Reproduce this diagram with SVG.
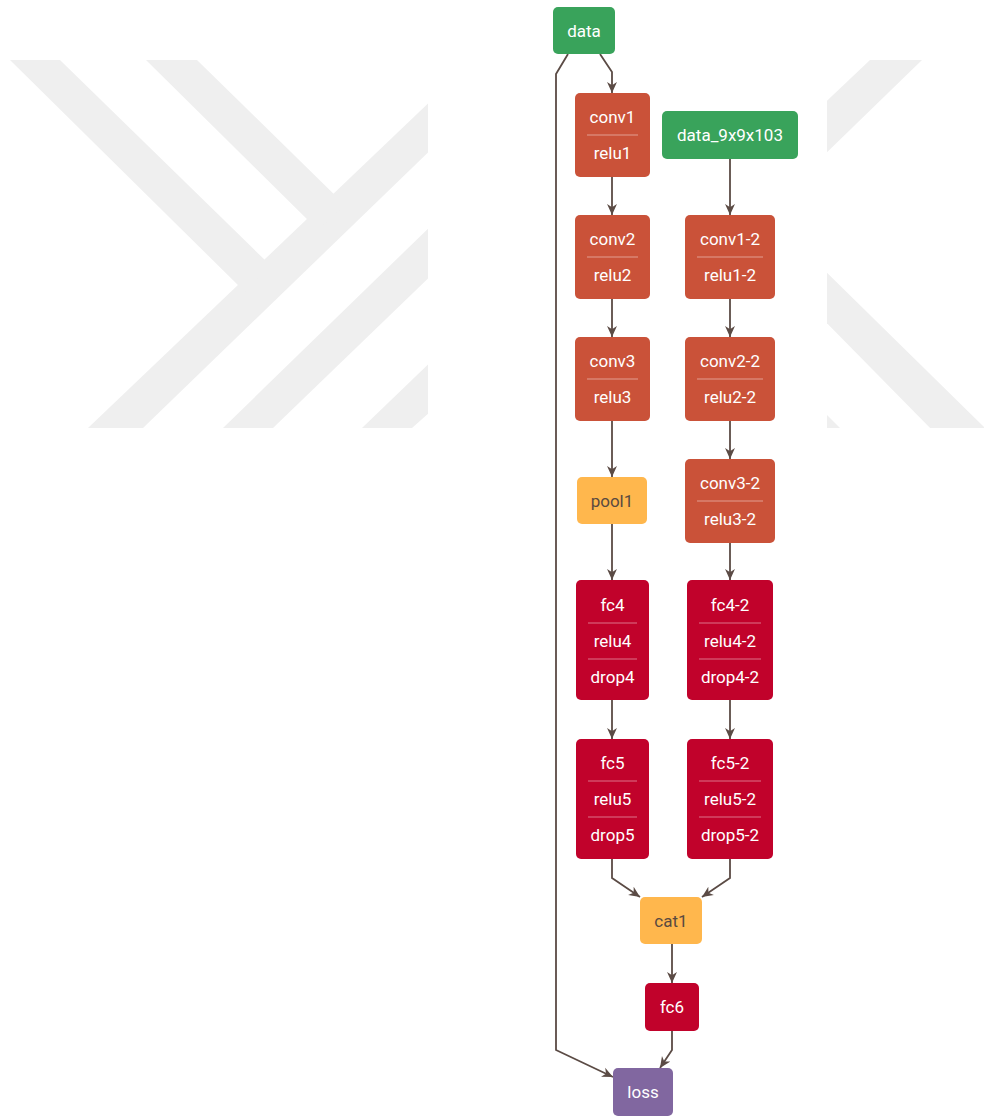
<svg xmlns="http://www.w3.org/2000/svg" width="984" height="1117" viewBox="0 0 984 1117">
<defs>
<style>
.wm{fill:#efefef}
.n rect.b{stroke:none}
.data{fill:#39a35b}
.conv{fill:#ca5239}
.fc{fill:#c1022b}
.pool{fill:#ffb74d}
.loss{fill:#8167a0}
.t{font-family:Roboto,"Liberation Sans",sans-serif;font-size:17px;fill:#ffffff;text-anchor:middle}
.td{fill:#5a4a40}
.dv{stroke:#ffffff;stroke-opacity:0.45;stroke-width:1}
.e{fill:none;stroke:#5b4b45;stroke-width:1.8}
</style>
<marker id="ah" viewBox="0 0 10 10" refX="10" refY="5" markerWidth="11" markerHeight="11" markerUnits="userSpaceOnUse" orient="auto">
<path d="M0,0.5 L10,5 L0,9.5 L3,5 z" fill="#5b4b45"/>
</marker>
<clipPath id="cl"><rect x="0" y="0" width="428" height="428"/></clipPath>
<clipPath id="cr"><rect x="827" y="0" width="157" height="428"/></clipPath>
</defs>
<rect width="984" height="1117" fill="#ffffff"/>
<g id="watermark">
<g clip-path="url(#cl)">
<polygon class="wm" points="88,428 143,428 440,141 440,92"/>
<polygon class="wm" points="10,60 60,60 270,265 245,292"/>
<polygon class="wm" points="146,60 197,60 345,205 318,230"/>
<polygon class="wm" points="223,428 273,428 440,267 440,217"/>
<polygon class="wm" points="362,428 412,428 440,403 440,353"/>
</g>
<g clip-path="url(#cr)">
<polygon class="wm" points="870,60 922,60 815,164 815,112"/>
<polygon class="wm" points="815,261 990,433 935,433 815,311"/>
<polygon class="wm" points="827,415 827,428 840,428"/>
</g>
</g>
<g id="connectors">
<path class="e" d="M600,54 L612,72 L612,93" marker-end="url(#ah)"/>
<path class="e" d="M568,54 L556,74 L556,1050 L613,1077" marker-end="url(#ah)"/>
<path class="e" d="M612,177 L612,215" marker-end="url(#ah)"/>
<path class="e" d="M612,299 L612,337" marker-end="url(#ah)"/>
<path class="e" d="M612,421 L612,477" marker-end="url(#ah)"/>
<path class="e" d="M612,524 L612,580" marker-end="url(#ah)"/>
<path class="e" d="M612,700 L612,739" marker-end="url(#ah)"/>
<path class="e" d="M612,859 L612,878 L640,897" marker-end="url(#ah)"/>
<path class="e" d="M730,159 L730,215" marker-end="url(#ah)"/>
<path class="e" d="M730,299 L730,337" marker-end="url(#ah)"/>
<path class="e" d="M730,421 L730,459" marker-end="url(#ah)"/>
<path class="e" d="M730,543 L730,580" marker-end="url(#ah)"/>
<path class="e" d="M730,700 L730,739" marker-end="url(#ah)"/>
<path class="e" d="M730,859 L730,878 L702,897" marker-end="url(#ah)"/>
<path class="e" d="M672,944 L672,983" marker-end="url(#ah)"/>
<path class="e" d="M672,1031 L672,1050 L660,1068" marker-end="url(#ah)"/>
</g>
<g id="data" class="n"><rect class="b data" x="553" y="7" width="62" height="47" rx="5"/><text class="t" x="584" y="37">data</text></g>
<g id="conv1" class="n"><rect class="b conv" x="575" y="93" width="75" height="84" rx="5"/><line class="dv" x1="587" y1="135" x2="638" y2="135"/><text class="t" x="612.5" y="123">conv1</text><text class="t" x="612.5" y="159">relu1</text></g>
<g id="data_9x9x103" class="n"><rect class="b data" x="662" y="111" width="136" height="48" rx="5"/><text class="t" x="730" y="141">data_9x9x103</text></g>
<g id="conv2" class="n"><rect class="b conv" x="575" y="215" width="75" height="84" rx="5"/><line class="dv" x1="587" y1="257" x2="638" y2="257"/><text class="t" x="612.5" y="245">conv2</text><text class="t" x="612.5" y="281">relu2</text></g>
<g id="conv1-2" class="n"><rect class="b conv" x="685" y="215" width="90" height="84" rx="5"/><line class="dv" x1="697" y1="257" x2="763" y2="257"/><text class="t" x="730" y="245">conv1-2</text><text class="t" x="730" y="281">relu1-2</text></g>
<g id="conv3" class="n"><rect class="b conv" x="575" y="337" width="75" height="84" rx="5"/><line class="dv" x1="587" y1="379" x2="638" y2="379"/><text class="t" x="612.5" y="367">conv3</text><text class="t" x="612.5" y="403">relu3</text></g>
<g id="conv2-2" class="n"><rect class="b conv" x="685" y="337" width="90" height="84" rx="5"/><line class="dv" x1="697" y1="379" x2="763" y2="379"/><text class="t" x="730" y="367">conv2-2</text><text class="t" x="730" y="403">relu2-2</text></g>
<g id="pool1" class="n"><rect class="b pool" x="577" y="477" width="70" height="47" rx="5"/><text class="t td" x="612" y="506.5">pool1</text></g>
<g id="conv3-2" class="n"><rect class="b conv" x="685" y="459" width="90" height="84" rx="5"/><line class="dv" x1="697" y1="501" x2="763" y2="501"/><text class="t" x="730" y="489">conv3-2</text><text class="t" x="730" y="525">relu3-2</text></g>
<g id="fc4" class="n"><rect class="b fc" x="576" y="580" width="73" height="120" rx="5"/><line class="dv" x1="588" y1="623" x2="637" y2="623"/><line class="dv" x1="588" y1="659" x2="637" y2="659"/><text class="t" x="612.5" y="611">fc4</text><text class="t" x="612.5" y="647">relu4</text><text class="t" x="612.5" y="683">drop4</text></g>
<g id="fc4-2" class="n"><rect class="b fc" x="687" y="580" width="86" height="120" rx="5"/><line class="dv" x1="699" y1="623" x2="761" y2="623"/><line class="dv" x1="699" y1="659" x2="761" y2="659"/><text class="t" x="730" y="611">fc4-2</text><text class="t" x="730" y="647">relu4-2</text><text class="t" x="730" y="683">drop4-2</text></g>
<g id="fc5" class="n"><rect class="b fc" x="576" y="739" width="73" height="120" rx="5"/><line class="dv" x1="588" y1="781" x2="637" y2="781"/><line class="dv" x1="588" y1="817" x2="637" y2="817"/><text class="t" x="612.5" y="769">fc5</text><text class="t" x="612.5" y="805">relu5</text><text class="t" x="612.5" y="841">drop5</text></g>
<g id="fc5-2" class="n"><rect class="b fc" x="687" y="739" width="86" height="120" rx="5"/><line class="dv" x1="699" y1="781" x2="761" y2="781"/><line class="dv" x1="699" y1="817" x2="761" y2="817"/><text class="t" x="730" y="769">fc5-2</text><text class="t" x="730" y="805">relu5-2</text><text class="t" x="730" y="841">drop5-2</text></g>
<g id="cat1" class="n"><rect class="b pool" x="640" y="897" width="62" height="47" rx="5"/><text class="t td" x="671" y="926.5">cat1</text></g>
<g id="fc6" class="n"><rect class="b fc" x="645" y="983" width="54" height="48" rx="5"/><text class="t" x="672" y="1013">fc6</text></g>
<g id="loss" class="n"><rect class="b loss" x="613" y="1068" width="60" height="48" rx="5"/><text class="t" x="643" y="1098">loss</text></g>
</svg>
